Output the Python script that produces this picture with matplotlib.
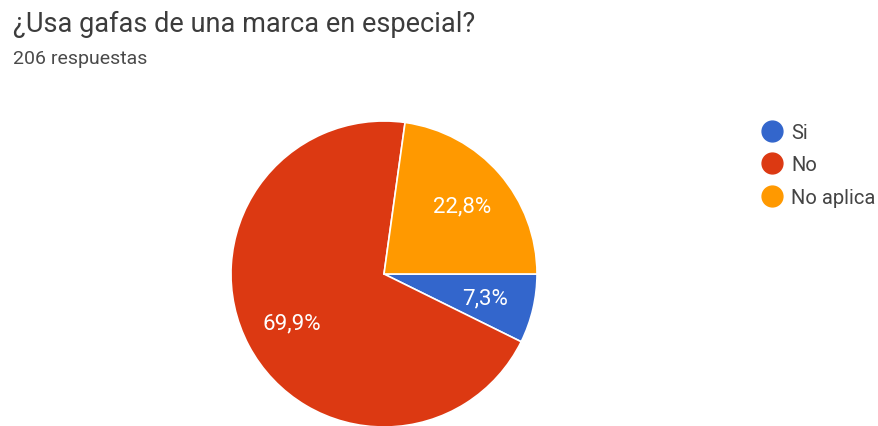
import numpy as np
import matplotlib.pyplot as plt
from matplotlib.lines import Line2D

plt.rcParams['font.family'] = ['Roboto', 'DejaVu Sans']

categorias = ['Si', 'No', 'No aplica']
porcentajes = [7.3, 69.9, 22.8]
colores = ['#3366cc', '#dc3912', '#ff9900']
etiquetas = ['7,3%', '69,9%', '22,8%']

W, H = 879, 427
fig = plt.figure(figsize=(W / 100, H / 100), dpi=100)

fig.text(13 / W, 1 - 32 / H, '¿Usa gafas de una marca en especial?',
         fontsize=19.5, color='#3c3c3c', va='baseline')
fig.text(13 / W, 1 - 64 / H, '206 respuestas',
         fontsize=14, color='#4a4a4a', va='baseline')

# pie centrado en (384, 275) px, radio ~153 px
ax = fig.add_axes([231 / W, (H - 428) / H, 306 / W, 306 / H])
wedges, _ = ax.pie(porcentajes, colors=colores, startangle=0, counterclock=False,
                   radius=1, wedgeprops=dict(edgecolor='white', linewidth=1.2))
for w, txt in zip(wedges, etiquetas):
    ang = np.deg2rad((w.theta1 + w.theta2) / 2)
    ax.text(0.68 * np.cos(ang), 0.68 * np.sin(ang), txt, ha='center', va='center',
            color='white', fontsize=16)
ax.set_xlim(-1, 1)
ax.set_ylim(-1, 1)
ax.axis('off')

handles = [Line2D([], [], marker='o', linestyle='', markersize=15,
                  markerfacecolor=c, markeredgecolor=c) for c in colores]
fig.legend(handles, categorias, loc='upper left', bbox_to_anchor=(762 / W, 1 - 124 / H),
           frameon=False, fontsize=14.5, handletextpad=0.45, labelspacing=0.67,
           borderpad=0, borderaxespad=0, handlelength=1.0, labelcolor='#444444')

fig.savefig('out.png', dpi=100)
